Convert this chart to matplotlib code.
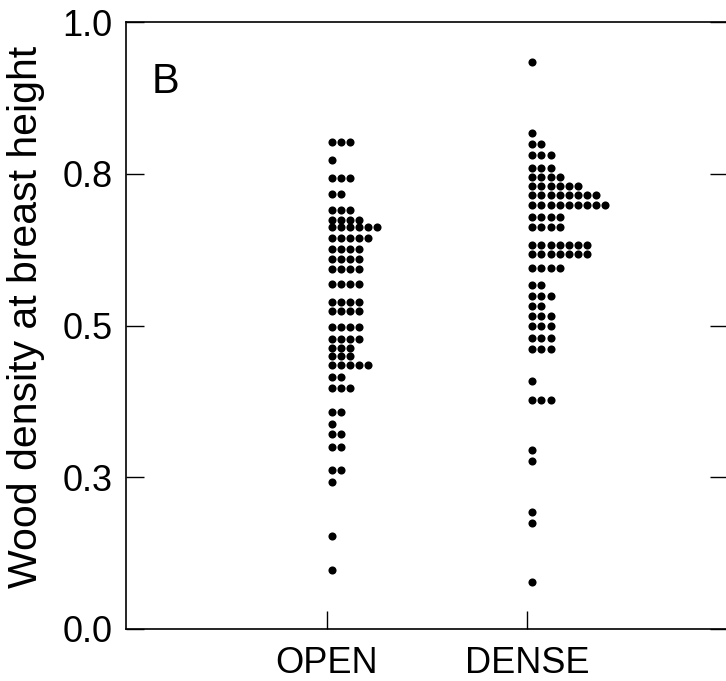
import matplotlib
matplotlib.use('Agg')
import matplotlib.pyplot as plt

plt.rcParams['font.family'] = ['Liberation Sans', 'DejaVu Sans']

# wood density classes (binned) and number of trees in each bin
categories = ['OPEN', 'DENSE']

open_levels = [0.802, 0.773, 0.743, 0.717, 0.690, 0.673, 0.662, 0.644, 0.626, 0.610,
               0.593, 0.568, 0.539, 0.524, 0.498, 0.478, 0.463, 0.450, 0.435, 0.415,
               0.397, 0.358, 0.338, 0.321, 0.300, 0.262, 0.242, 0.153, 0.097]
open_counts = [3, 1, 3, 2, 3, 4, 6, 5, 4, 4,
               4, 4, 4, 4, 4, 4, 3, 3, 5, 2,
               3, 2, 1, 2, 2, 2, 1, 1, 1]

dense_levels = [0.934, 0.817, 0.799, 0.781, 0.760, 0.744, 0.730, 0.715, 0.698, 0.679,
                0.663, 0.633, 0.617, 0.594, 0.567, 0.549, 0.532, 0.515, 0.499, 0.480,
                0.461, 0.408, 0.377, 0.295, 0.277, 0.193, 0.175, 0.078]
dense_counts = [1, 1, 2, 3, 3, 4, 6, 8, 9, 4,
                4, 7, 7, 4, 2, 3, 2, 3, 3, 3,
                3, 1, 3, 1, 1, 1, 1, 1]

yticks = [0.0, 0.25, 0.5, 0.75, 1.0]
ytick_labels = ['0.0', '0.3', '0.5', '0.8', '1.0']

fig = plt.figure(figsize=(7.26, 6.81), dpi=100)
ax = fig.add_axes([126 / 726, 52 / 681, 602 / 726, 607 / 681])

offset = 0.025
step = 0.0455
for pos, (levels, counts) in enumerate([(open_levels, open_counts), (dense_levels, dense_counts)], start=1):
    xs, ys = [], []
    for lev, n in zip(levels, counts):
        for k in range(n):
            xs.append(pos + offset + k * step)
            ys.append(lev)
    ax.scatter(xs, ys, s=34, color='black', linewidths=0, zorder=3)

ax.set_xlim(0, 3)
ax.set_ylim(0, 1)
ax.set_xticks([1, 2])
ax.set_xticklabels(categories)
ax.set_yticks(yticks)
ax.set_yticklabels(ytick_labels)

for side in ['left', 'bottom', 'top', 'right']:
    ax.spines[side].set_linewidth(1.2)

ax.tick_params(axis='both', direction='in', length=13, width=1.0, labelsize=26)
ax.tick_params(axis='y', right=True, pad=9.5)
ax.tick_params(axis='x', pad=12)

ax.set_ylabel('Wood density at breast height', fontsize=29.5)
ax.yaxis.set_label_coords(-0.135, 0.514)

ax.text(0.043, 0.934, 'B', transform=ax.transAxes, fontsize=30, va='top', ha='left')

fig.savefig('out.png', dpi=100)
